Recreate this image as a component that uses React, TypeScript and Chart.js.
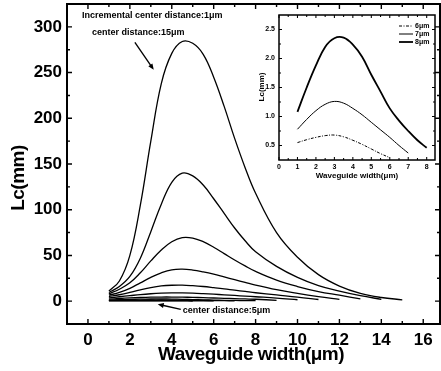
import React, { useEffect, useRef } from 'react';
import { Chart, registerables } from 'chart.js';

Chart.register(...registerables);

// ---------- data ----------
const WIDTHS = [1, 1.5, 2, 2.5, 3, 3.5, 4, 4.5, 5, 5.5, 6, 6.5, 7, 7.5, 8, 9, 10, 11, 12, 13, 14, 15];

const LC_15 = [11, 22, 50, 105, 175, 238, 271, 284, 282, 270, 245, 213, 178, 146, 118, 75, 48, 29, 16.5, 8.5, 4, 1.5];
const LC_14 = [9.5, 16, 27, 47, 76, 106, 130, 140, 137, 127, 112, 96, 80, 66, 54, 38, 26, 17, 11, 6, 2];
const LC_13 = [8, 13, 20, 31, 44, 56, 65, 69.5, 69, 65, 59, 52, 45, 38.5, 32.5, 23, 16, 10.5, 6.5, 2.5];
const LC_12 = [6.5, 9.5, 14, 20, 26, 31, 34.3, 35, 34, 32, 29.5, 26.5, 23.5, 20.5, 17.5, 12.5, 8.5, 5, 2];
const LC_11 = [5, 7, 9.5, 12.3, 14.8, 16.6, 17.4, 17.5, 16.9, 16, 14.8, 13.5, 12, 10.6, 9.2, 6.8, 4.5, 1.8];
const LC_10 = [3.5, 4.8, 6, 7.2, 8.1, 8.7, 9, 9, 8.7, 8.2, 7.6, 6.9, 6.2, 5.5, 4.8, 3.4, 1.5];
const LC_9 = [2.2, 2.9, 3.5, 4, 4.35, 4.5, 4.5, 4.35, 4.1, 3.8, 3.45, 3.1, 2.75, 2.4, 2.05, 0.9];
const LC_8 = [1.08, 1.5, 1.88, 2.2, 2.35, 2.36, 2.24, 2.03, 1.72, 1.43, 1.14, 0.93, 0.75, 0.59, 0.46];
const LC_7 = [0.78, 0.95, 1.1, 1.21, 1.26, 1.23, 1.14, 1.03, 0.9, 0.77, 0.64, 0.5, 0.37];
const LC_6 = [0.55, 0.6, 0.64, 0.67, 0.68, 0.65, 0.59, 0.52, 0.44, 0.36, 0.29];
const LC_5 = [0.3, 0.33, 0.35, 0.35, 0.34, 0.31, 0.27, 0.22, 0.17];

const MAIN_SERIES = [LC_15, LC_14, LC_13, LC_12, LC_11, LC_10, LC_9, LC_8, LC_7, LC_6, LC_5];

const MAIN_X_TICKS = [0, 2, 4, 6, 8, 10, 12, 14, 16];
const MAIN_Y_TICKS = [0, 50, 100, 150, 200, 250, 300];
const INSET_X_TICKS = [0, 1, 2, 3, 4, 5, 6, 7, 8];
const INSET_Y_TICKS = [0.5, 1.0, 1.5, 2.0, 2.5];
const INSET_LABELS = ['6\u03bcm', '7\u03bcm', '8\u03bcm'];

const X_TITLE = 'Waveguide width(\u03bcm)';
const Y_TITLE = 'Lc(mm)';
const NOTE_INCREMENT = 'Incremental center distance:1\u03bcm';
const NOTE_15 = 'center distance:15\u03bcm';
const NOTE_5 = 'center distance:5\u03bcm';

const FONT = '"Liberation Sans", Arial, sans-serif';

const pts = (vals: number[]) => vals.map((v, i) => ({ x: WIDTHS[i], y: v }));
const mids = (t: number[]) => t.slice(1).map((v, i) => (v + t[i]) / 2);

function drawFrame(chart: any, lw: number, major: number, minor: number) {
  const { ctx, chartArea: a, scales } = chart;
  const xs = scales.x, ys = scales.y;
  const xt = xs.ticks.map((t: any) => t.value);
  const yt = ys.ticks.map((t: any) => t.value);
  ctx.save();
  ctx.strokeStyle = '#000';
  ctx.lineWidth = lw;
  ctx.strokeRect(a.left, a.top, a.right - a.left, a.bottom - a.top);
  ctx.lineWidth = Math.max(1, lw * 0.7);
  const tick = (vals: number[], len: number) => ({ vals, len });
  for (const g of [tick(xt, major), tick(mids(xt), minor)]) {
    for (const v of g.vals) {
      const p = xs.getPixelForValue(v);
      ctx.beginPath();
      ctx.moveTo(p, a.bottom); ctx.lineTo(p, a.bottom - g.len);
      ctx.moveTo(p, a.top); ctx.lineTo(p, a.top + g.len);
      ctx.stroke();
    }
  }
  for (const g of [tick(yt, major), tick(mids(yt), minor)]) {
    for (const v of g.vals) {
      const p = ys.getPixelForValue(v);
      ctx.beginPath();
      ctx.moveTo(a.left, p); ctx.lineTo(a.left + g.len, p);
      ctx.moveTo(a.right, p); ctx.lineTo(a.right - g.len, p);
      ctx.stroke();
    }
  }
  ctx.restore();
}

function arrow(ctx: CanvasRenderingContext2D, x1: number, y1: number, x2: number, y2: number) {
  const ang = Math.atan2(y2 - y1, x2 - x1);
  const hl = 6, hw = 2.5;
  ctx.beginPath();
  ctx.moveTo(x1, y1);
  ctx.lineTo(x2 - Math.cos(ang) * hl * 0.8, y2 - Math.sin(ang) * hl * 0.8);
  ctx.stroke();
  ctx.beginPath();
  ctx.moveTo(x2, y2);
  ctx.lineTo(x2 - Math.cos(ang) * hl - Math.sin(ang) * hw, y2 - Math.sin(ang) * hl + Math.cos(ang) * hw);
  ctx.lineTo(x2 - Math.cos(ang) * hl + Math.sin(ang) * hw, y2 - Math.sin(ang) * hl - Math.cos(ang) * hw);
  ctx.closePath();
  ctx.fill();
}

const mainDecor = {
  id: 'mainDecor',
  afterDraw(chart: any) {
    drawFrame(chart, 2, 5, 3);
    const { ctx, scales } = chart;
    const P = (x: number, y: number): [number, number] => [scales.x.getPixelForValue(x), scales.y.getPixelForValue(y)];
    ctx.save();
    ctx.fillStyle = '#000';
    ctx.strokeStyle = '#000';
    ctx.lineWidth = 1.4;
    ctx.font = `bold 9px ${FONT}`;
    ctx.textBaseline = 'middle';
    ctx.textAlign = 'left';
    ctx.fillText(NOTE_INCREMENT, ...P(-0.29, 312));
    ctx.fillText(NOTE_15, ...P(0.19, 294));
    ctx.fillText(NOTE_5, ...P(4.52, -10));
    arrow(ctx, ...P(2.24, 283), ...P(3.14, 253));
    arrow(ctx, ...P(4.43, -9), ...P(3.33, -3.3));
    // axis titles
    ctx.font = `bold 19px ${FONT}`;
    (ctx as any).letterSpacing = '-0.5px';
    ctx.textAlign = 'center';
    ctx.fillText(X_TITLE, 251, 355);
    ctx.translate(19, 178);
    ctx.rotate(-Math.PI / 2);
    ctx.fillText(Y_TITLE, 0, 0);
    ctx.restore();
  },
};

const insetDecor = {
  id: 'insetDecor',
  afterDraw(chart: any) {
    drawFrame(chart, 1.5, 3, 2);
    const { ctx, chartArea: a } = chart;
    ctx.save();
    ctx.fillStyle = '#000';
    ctx.strokeStyle = '#000';
    ctx.font = `bold 7px ${FONT}`;
    ctx.textBaseline = 'middle';
    ctx.textAlign = 'left';
    const styles = [
      { w: 1, dash: [3, 1.5, 1, 1.5] },
      { w: 1, dash: [] as number[] },
      { w: 1.8, dash: [] as number[] },
    ];
    INSET_LABELS.forEach((lab, i) => {
      const y = a.top + 11 + i * 8;
      ctx.lineWidth = styles[i].w;
      ctx.setLineDash(styles[i].dash);
      ctx.beginPath();
      ctx.moveTo(a.right - 36, y); ctx.lineTo(a.right - 22, y);
      ctx.stroke();
      ctx.fillText(lab, a.right - 20, y);
    });
    ctx.setLineDash([]);
    ctx.font = `bold 8px ${FONT}`;
    ctx.textAlign = 'center';
    ctx.fillText(X_TITLE, 357 - 244, 176 - 6);
    ctx.translate(262 - 244, 87 - 6);
    ctx.rotate(-Math.PI / 2);
    ctx.fillText(Y_TITLE, 0, 0);
    ctx.restore();
  },
};

function axis(min: number, max: number, ticks: number[], size: number, pad: number, horizontal: boolean, fontSize: number, fmt: (v: number) => string) {
  return {
    type: 'linear' as const,
    min, max,
    afterBuildTicks: (s: any) => { s.ticks = ticks.map((v) => ({ value: v })); },
    afterFit: (s: any) => {
      if (horizontal) { s.height = size; s.paddingLeft = 0; s.paddingRight = 0; }
      else { s.width = size; s.paddingTop = 0; s.paddingBottom = 0; }
    },
    grid: { display: false, drawTicks: false },
    border: { display: false },
    ticks: {
      color: '#000',
      font: { family: FONT, size: fontSize, weight: 'bold' as const },
      padding: pad,
      autoSkip: false,
      maxRotation: 0,
      callback: (v: any) => fmt(Number(v)),
    },
  };
}

const lineStyle = { borderColor: '#000', pointRadius: 0, fill: false, tension: 0.4 };

export default function App() {
  const mainRef = useRef<HTMLCanvasElement>(null);
  const insetRef = useRef<HTMLCanvasElement>(null);

  useEffect(() => {
    const main = new Chart(mainRef.current!, {
      type: 'line',
      data: {
        datasets: MAIN_SERIES.map((s) => ({ ...lineStyle, data: pts(s), borderWidth: 1.3 })),
      },
      options: {
        animation: false,
        responsive: false,
        layout: { padding: { top: 4, right: 1, left: 0, bottom: 0 } },
        plugins: { legend: { display: false }, tooltip: { enabled: false } },
        scales: {
          x: axis(-1, 16.8, MAIN_X_TICKS, 47, 6, true, 17, (v) => String(v)),
          y: axis(-25, 325, MAIN_Y_TICKS, 67, 5, false, 17, (v) => String(v)),
        },
      },
      plugins: [mainDecor],
    });

    const inset = new Chart(insetRef.current!, {
      type: 'line',
      data: {
        datasets: [
          { ...lineStyle, data: pts(LC_6), borderWidth: 1, borderDash: [3, 1.5, 1, 1.5] },
          { ...lineStyle, data: pts(LC_7), borderWidth: 1 },
          { ...lineStyle, data: pts(LC_8), borderWidth: 1.8 },
        ],
      },
      options: {
        animation: false,
        responsive: false,
        layout: { padding: { top: 9, right: 3, left: 0, bottom: 0 } },
        plugins: { legend: { display: false }, tooltip: { enabled: false } },
        scales: {
          x: axis(0, 8.45, INSET_X_TICKS, 26, 3, true, 7, (v) => String(v)),
          y: axis(0.25, 2.75, INSET_Y_TICKS, 35, 4, false, 7, (v) => v.toFixed(1)),
        },
      },
      plugins: [insetDecor],
    });

    return () => { main.destroy(); inset.destroy(); };
  }, []);

  return (
    <div style={{ position: 'fixed', left: 0, top: 0, width: 441, height: 371, background: '#fff' }}>
      <canvas ref={mainRef} width={441} height={371} style={{ position: 'absolute', left: 0, top: 0, width: 441, height: 371 }} />
      <canvas ref={insetRef} width={194} height={180} style={{ position: 'absolute', left: 244, top: 6, width: 194, height: 180 }} />
    </div>
  );
}
